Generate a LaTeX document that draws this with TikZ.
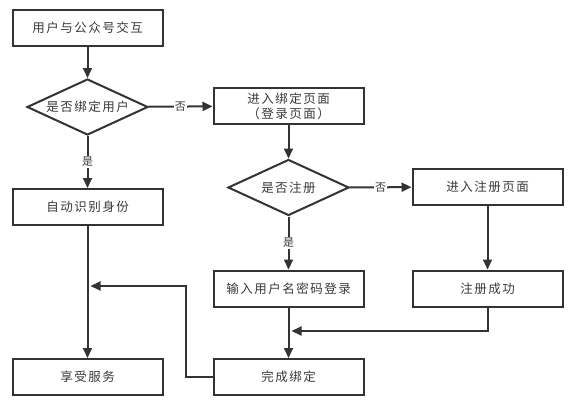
\documentclass[tikz,border=0pt]{standalone}
\usepackage{fontspec}
\setmainfont{Noto Sans CJK SC}[LetterSpace=12]
\usetikzlibrary{shapes.geometric,arrows.meta}
\definecolor{ink}{HTML}{333333}
\definecolor{txt}{HTML}{3A3A3A}
\begin{document}
\begin{tikzpicture}[x=1pt,y=-1pt,
  every node/.style={font=\fontsize{12.5}{16}\selectfont, text=txt},
  box/.style={draw=ink, line width=2pt, rectangle, minimum width=150pt, minimum height=36pt, inner sep=0pt, align=center},
  dia/.style={draw=ink, line width=2pt, diamond, minimum width=121pt, minimum height=56pt, inner sep=0pt},
  arr/.style={draw=ink, line width=2pt, -{Triangle[length=10pt,width=9pt]}},
  lbl/.style={fill=white, inner sep=1pt, font=\fontsize{11}{13}\selectfont}]
\useasboundingbox (0,0) rectangle (572,415);
\fill[white] (0,0) rectangle (572,415);
\node[box] (n1) at (87.5,27.5) {用户与公众号交互};
\node[dia] (d1) at (87.5,107) {\makebox[0pt]{是否绑定用户}};
\node[box, font=\fontsize{12.5}{15}\selectfont] (n2) at (288.5,106) {进入绑定页面\\（登录页面）};
\node[box] (n3) at (87.5,207) {自动识别身份};
\node[dia] (d2) at (288.5,187.5) {\makebox[0pt]{是否注册}};
\node[box] (n4) at (487.5,187) {进入注册页面};
\node[box] (n5) at (288.5,288.5) {输入用户名密码登录};
\node[box] (n6) at (487.5,288.5) {注册成功};
\node[box] (n7) at (87.5,377) {享受服务};
\node[box] (n8) at (288.5,377) {完成绑定};
\coordinate (c1) at (90.5,286);
\coordinate (c2) at (291.5,331);
\draw[arr] (n1) -- (d1);
\draw[arr] (d1) -- node[lbl] {是} (n3);
\draw[arr] (d1) -- node[lbl] {否} (n2);
\draw[arr] (n2) -- (d2);
\draw[arr] (d2) -- node[lbl] {是} (n5);
\draw[arr] (d2) -- node[lbl] {否} (n4);
\draw[arr] (n4) -- (n6);
\draw[arr] (n3) -- (n7);
\draw[arr] (n5) -- (n8);
\draw[arr] (n6.south) |- (c2);
\draw[arr] (n8.west) -- (186,377) |- (c1);
\end{tikzpicture}
\end{document}
